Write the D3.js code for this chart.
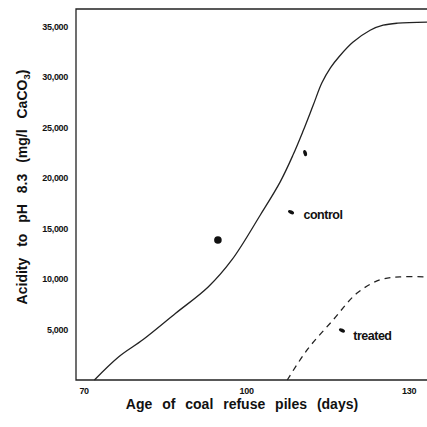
<!DOCTYPE html>
<html>
<head>
<meta charset="utf-8">
<script src="https://cdn.jsdelivr.net/npm/d3@7"></script>
<style>
  body { margin: 0; background: #fff; }
  text { font-family: "Liberation Sans", Arial, sans-serif; font-weight: bold; fill: #111; }
</style>
</head>
<body>
<div id="chart"></div>
<script>
// Data (age in days, acidity in mg/l CaCO3)
const control = [
  [72, 0], [76.5, 2300], [81, 4000], [87, 6600], [93, 9200], [97.4, 11900],
  [102.6, 16300], [106.3, 19600], [108.7, 22300], [110.5, 24600], [112.4, 27200],
  [114, 29400], [115.6, 30900], [117.2, 32000], [119.7, 33400], [122.9, 34600],
  [125.3, 35100], [128, 35300], [133.4, 35400]
];
const treated = [
  [107.6, 0], [111.3, 3000], [116, 5900], [120.5, 8600], [124.7, 9900],
  [128.4, 10200], [133.4, 10200]
];
const dots = [[94.8, 13850]];
const labels = [
  { text: "control", x: 110.6, y: 15900 },
  { text: "treated", x: 119.8, y: 4000 }
];
// little pointer marks beside the labels
const marks = [[108.3, 16600, 25], [117.7, 4900, 25], [110.9, 22450, 75]];
const xTicks = [70, 100, 130];
const yTicks = [5000, 10000, 15000, 20000, 25000, 30000, 35000];

const width = 427, height = 427;
const marginTop = 9, marginBottom = 47, marginLeft = 76, marginRight = 0;

const x = d3.scaleLinear()
    .domain([68.6, 133.4])
    .range([marginLeft, width - marginRight]);

const y = d3.scaleLinear()
    .domain([0, 36700])
    .range([height - marginBottom, marginTop]);

const svg = d3.select("#chart").append("svg")
    .attr("width", width)
    .attr("height", height)
    .attr("viewBox", [0, 0, width, height]);

// frame: left axis, bottom axis, top line
svg.append("path")
    .attr("fill", "none")
    .attr("stroke", "#222")
    .attr("stroke-width", 1.3)
    .attr("d", `M${width},${y(0)}H${x(68.6)}V${marginTop}H${width}`);

const tickStyle = g => g.selectAll("text")
    .attr("font-size", 9)
    .attr("letter-spacing", -0.3)
    .attr("font-family", "DejaVu Sans, sans-serif")
    .attr("font-weight", "bold")
    .attr("fill", "#111");

// y tick labels
svg.append("g")
    .attr("transform", `translate(${marginLeft},0)`)
    .call(d3.axisLeft(y).tickValues(yTicks).tickSize(0).tickPadding(8)
        .tickFormat(d3.format(",")))
    .call(g => g.select(".domain").remove())
    .call(tickStyle);

// x tick labels
svg.append("g")
    .attr("transform", `translate(0,${y(0)})`)
    .call(d3.axisBottom(x).tickValues(xTicks).tickSize(0).tickPadding(8))
    .call(g => g.select(".domain").remove())
    .call(tickStyle);

const line = d3.line()
    .curve(d3.curveCatmullRom)
    .x(d => x(d[0]))
    .y(d => y(d[1]));

svg.append("path")
    .datum(control)
    .attr("fill", "none")
    .attr("stroke", "#222")
    .attr("stroke-width", 1.3)
    .attr("d", line);

svg.append("path")
    .datum(treated)
    .attr("fill", "none")
    .attr("stroke", "#222")
    .attr("stroke-width", 1.3)
    .attr("stroke-dasharray", "6,5")
    .attr("d", line);

svg.selectAll(".dot")
  .data(dots)
  .join("circle")
    .attr("cx", d => x(d[0]))
    .attr("cy", d => y(d[1]))
    .attr("r", 3.8)
    .attr("fill", "#111");

svg.selectAll(".mark")
  .data(marks)
  .join("ellipse")
    .attr("transform", d => `translate(${x(d[0])},${y(d[1])}) rotate(${d[2]})`)
    .attr("rx", 3.2)
    .attr("ry", 1.8)
    .attr("fill", "#111");

svg.selectAll(".lbl")
  .data(labels)
  .join("text")
    .attr("x", d => x(d.x))
    .attr("y", d => y(d.y))
    .attr("font-size", 12.5)
    .attr("letter-spacing", -0.5)
    .text(d => d.text);

// axis titles
svg.append("text")
    .attr("x", 242)
    .attr("y", 409)
    .attr("text-anchor", "middle")
    .attr("font-size", 14)
    .attr("word-spacing", 6)
    .text("Age of coal refuse piles (days)");

const yt = svg.append("text")
    .attr("transform", `translate(27,187) rotate(-90)`)
    .attr("text-anchor", "middle")
    .attr("font-size", 14)
    .attr("word-spacing", 7);
yt.append("tspan").text("Acidity to pH 8.3 (mg/l CaCO");
yt.append("tspan").attr("font-size", 9.5).attr("dy", 3).text("3");
yt.append("tspan").attr("dy", -3).text(")");
</script>
</body>
</html>
